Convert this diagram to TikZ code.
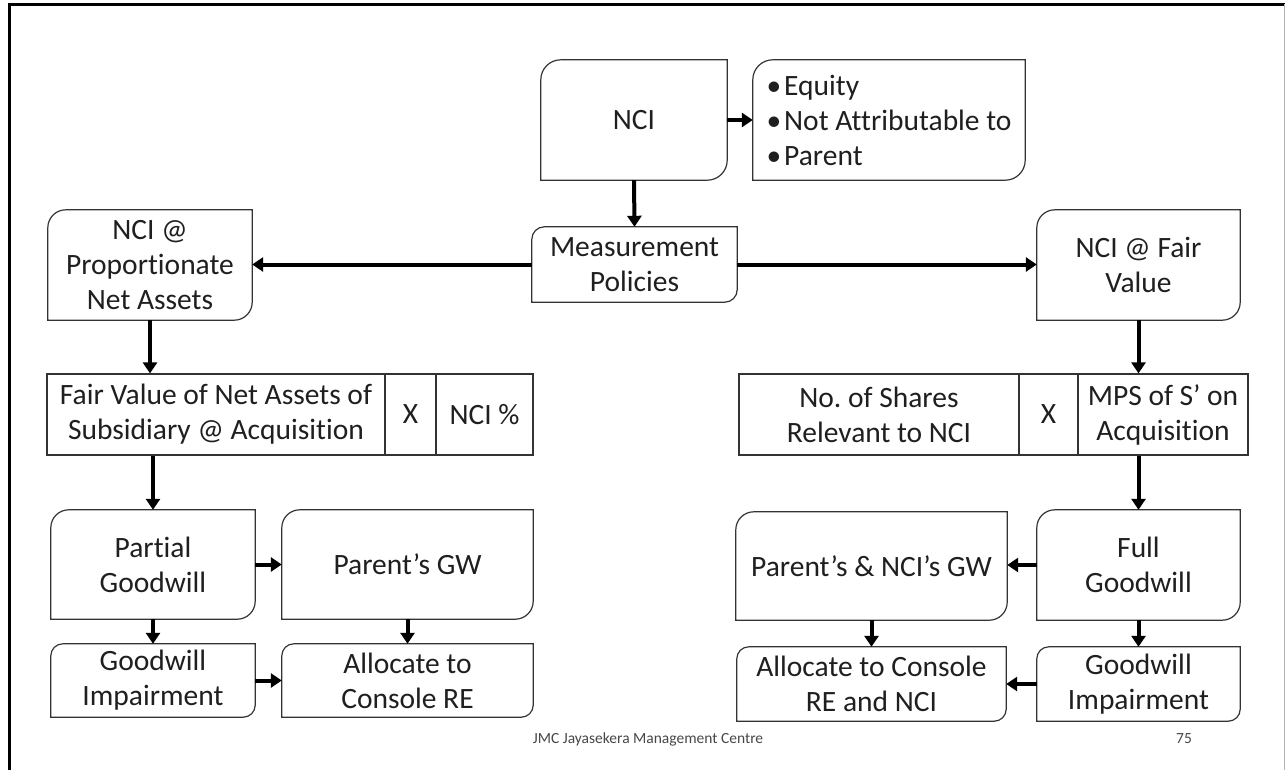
\documentclass[tikz,border=0pt]{standalone}
\usepackage{fontspec}
\setmainfont{Carlito}[Ligatures={CommonOff,ContextualOff}]
\usetikzlibrary{arrows.meta,calc}
\tikzset{
  boxnode/.style={inner sep=0pt, align=center, font=\fontsize{29.5}{35}\selectfont, text=black!88},
  outl/.style={draw=black!80, line width=1.2pt},
  cell/.style={draw=black!80, line width=1.2pt, inner sep=0pt, align=center, font=\fontsize{29.5}{35}\selectfont, text=black!88},
  arr/.style={line width=4pt, -{Triangle[length=11pt,width=14pt]}},
  foot/.style={inner sep=0pt, font=\fontsize{15.5}{18}\selectfont, text=black!72},
}
\newcommand\rdbox[7]{%
  \node[boxnode, minimum width={(#4-#2)*1pt}, minimum height={(#5-#3)*1pt}] (#1) at ({(#2+#4)/2},{(#3+#5)/2}) {#7};
  \draw[outl] (#1.south west) -- ([yshift=-#6pt]#1.north west) to[out=90,in=180] ([xshift=#6pt]#1.north west) -- (#1.north east) -- ([yshift=#6pt]#1.south east) to[out=-90,in=0] ([xshift=-#6pt]#1.south east) -- cycle;
}
\begin{document}
\begin{tikzpicture}[x=1pt,y=-1pt]
\useasboundingbox (0,0) rectangle (1285,770);
% frame
\draw[line width=3pt] (9,770) -- (9,4.5) -- (1285,4.5);
\draw[black!30, line width=1pt] (1284.5,4.5) -- (1284.5,770);
% top
\rdbox{nci}{541}{60}{727}{180}{20}{NCI}
\rdbox{eq}{753}{60}{1025}{180}{20}{}
\node[boxnode, align=left] (eqtext) at (eq.center) {•\hspace{3pt}Equity\\•\hspace{3pt}Not Attributable to\\•\hspace{3pt}Parent};
\rdbox{meas}{532}{227}{737}{302}{12.5}{Measurement\\Policies}
\rdbox{prop}{48}{210}{252}{320}{18}{NCI @\\Proportionate\\Net Assets}
\rdbox{fv}{1037}{210}{1240}{320}{18}{NCI @ Fair\\Value}
% tables
\node[cell, minimum width=338pt, minimum height=81pt] (tl1) at (216,414.5) {Fair Value of Net Assets of\\Subsidiary @ Acquisition};
\node[cell, minimum width=51pt, minimum height=81pt] (tl2) at (410.5,414.5) {X};
\node[cell, minimum width=97pt, minimum height=81pt] (tl3) at (484.5,414.5) {NCI \%};
\node[cell, minimum width=280pt, minimum height=81pt] (tr1) at (879,414.5) {No.\ of Shares\\Relevant to NCI};
\node[cell, minimum width=59pt, minimum height=81pt] (tr2) at (1048.5,414.5) {X};
\node[cell, minimum width=170pt, minimum height=81pt] (tr3) at (1163,414.5) {MPS of S’ on\\Acquisition};
% lower left
\rdbox{pg}{51}{510}{255}{619}{18}{Partial\\Goodwill}
\rdbox{pgw}{282}{510}{533}{619}{18}{Parent’s GW}
\rdbox{gil}{51}{644}{255}{717}{12}{Goodwill\\Impairment}
\rdbox{all}{282}{644}{533}{717}{12}{Allocate to\\Console RE}
% lower right
\rdbox{png}{736}{512}{1007}{620}{18}{Parent’s \& NCI’s GW}
\rdbox{fg}{1037}{510}{1240}{620}{18}{Full\\Goodwill}
\rdbox{alr}{737}{647}{1006}{721}{12}{Allocate to Console\\RE and NCI}
\rdbox{gir}{1037}{647}{1240}{721}{12}{Goodwill\\Impairment}
% arrows
\draw[arr] (nci.east) -- (eq.west);
\draw[arr] (nci.south) -- (meas.north);
\draw[arr] (meas.west) -- (meas.west -| prop.east);
\draw[arr] (meas.east) -- (meas.east -| fv.west);
\draw[arr] (prop.south) -- (prop.south |- tl1.north);
\draw[arr] (pg.north |- tl1.south) -- (pg.north);
\draw[arr] (pg.east) -- (pg.east -| pgw.west);
\draw[arr] (pg.south) -- (gil.north);
\draw[arr] (pgw.south) -- (all.north);
\draw[arr] (gil.east) -- (all.west);
\draw[arr] (fv.south) -- (fv.south |- tr3.north);
\draw[arr] (fg.north |- tr3.south) -- (fg.north);
\draw[arr] (fg.west) -- (fg.west -| png.east);
\draw[arr] (fg.south) -- (gir.north);
\draw[arr] (png.south) -- (png.south |- alr.north);
\draw[arr] (gir.west) -- (gir.west -| alr.east);
% footer
\node[foot, anchor=base] (footer) at (648,743) {JMC Jayasekera Management Centre};
\node[foot, anchor=base] (pagenum) at (1184,743) {75};
\end{tikzpicture}
\end{document}
